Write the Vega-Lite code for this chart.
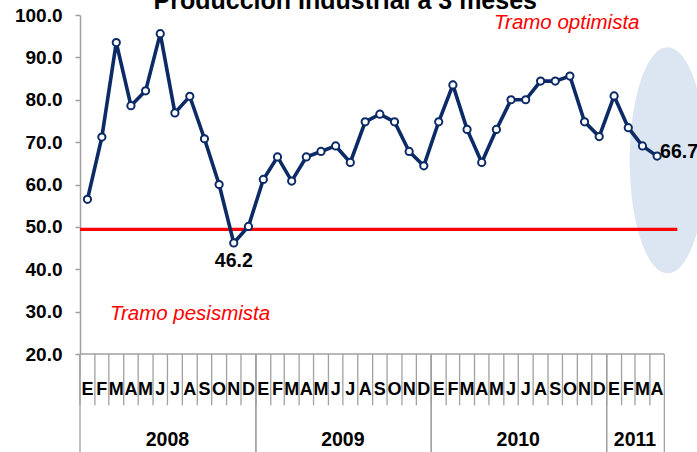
{
  "$schema": "https://vega.github.io/schema/vega-lite/v6.json",
  "width": 617,
  "height": 339,
  "autosize": {"type": "none"},
  "padding": {"left": 80, "top": 15, "right": 0, "bottom": 98},
  "background": "white",
  "config": {"view": {"stroke": null}, "font": "Liberation Sans"},
  "datasets": {
    "serie": [
      {"fecha": "2008-01-01", "anio": 2008, "mes": "E", "valor": 56.5},
      {"fecha": "2008-02-01", "anio": 2008, "mes": "F", "valor": 71.2},
      {"fecha": "2008-03-01", "anio": 2008, "mes": "M", "valor": 93.5},
      {"fecha": "2008-04-01", "anio": 2008, "mes": "A", "valor": 78.6},
      {"fecha": "2008-05-01", "anio": 2008, "mes": "M", "valor": 82.1},
      {"fecha": "2008-06-01", "anio": 2008, "mes": "J", "valor": 95.6},
      {"fecha": "2008-07-01", "anio": 2008, "mes": "J", "valor": 76.9},
      {"fecha": "2008-08-01", "anio": 2008, "mes": "A", "valor": 80.8},
      {"fecha": "2008-09-01", "anio": 2008, "mes": "S", "valor": 70.8},
      {"fecha": "2008-10-01", "anio": 2008, "mes": "O", "valor": 60.0},
      {"fecha": "2008-11-01", "anio": 2008, "mes": "N", "valor": 46.2},
      {"fecha": "2008-12-01", "anio": 2008, "mes": "D", "valor": 50.1},
      {"fecha": "2009-01-01", "anio": 2009, "mes": "E", "valor": 61.2},
      {"fecha": "2009-02-01", "anio": 2009, "mes": "F", "valor": 66.5},
      {"fecha": "2009-03-01", "anio": 2009, "mes": "M", "valor": 60.8},
      {"fecha": "2009-04-01", "anio": 2009, "mes": "A", "valor": 66.5},
      {"fecha": "2009-05-01", "anio": 2009, "mes": "M", "valor": 67.8},
      {"fecha": "2009-06-01", "anio": 2009, "mes": "J", "valor": 69.1},
      {"fecha": "2009-07-01", "anio": 2009, "mes": "J", "valor": 65.2},
      {"fecha": "2009-08-01", "anio": 2009, "mes": "A", "valor": 74.8},
      {"fecha": "2009-09-01", "anio": 2009, "mes": "S", "valor": 76.6},
      {"fecha": "2009-10-01", "anio": 2009, "mes": "O", "valor": 74.8},
      {"fecha": "2009-11-01", "anio": 2009, "mes": "N", "valor": 67.8},
      {"fecha": "2009-12-01", "anio": 2009, "mes": "D", "valor": 64.4},
      {"fecha": "2010-01-01", "anio": 2010, "mes": "E", "valor": 74.8},
      {"fecha": "2010-02-01", "anio": 2010, "mes": "F", "valor": 83.5},
      {"fecha": "2010-03-01", "anio": 2010, "mes": "M", "valor": 73.0},
      {"fecha": "2010-04-01", "anio": 2010, "mes": "A", "valor": 65.2},
      {"fecha": "2010-05-01", "anio": 2010, "mes": "M", "valor": 73.0},
      {"fecha": "2010-06-01", "anio": 2010, "mes": "J", "valor": 80.0},
      {"fecha": "2010-07-01", "anio": 2010, "mes": "J", "valor": 80.0},
      {"fecha": "2010-08-01", "anio": 2010, "mes": "A", "valor": 84.4},
      {"fecha": "2010-09-01", "anio": 2010, "mes": "S", "valor": 84.4},
      {"fecha": "2010-10-01", "anio": 2010, "mes": "O", "valor": 85.6},
      {"fecha": "2010-11-01", "anio": 2010, "mes": "N", "valor": 74.8},
      {"fecha": "2010-12-01", "anio": 2010, "mes": "D", "valor": 71.3},
      {"fecha": "2011-01-01", "anio": 2011, "mes": "E", "valor": 80.9},
      {"fecha": "2011-02-01", "anio": 2011, "mes": "F", "valor": 73.4},
      {"fecha": "2011-03-01", "anio": 2011, "mes": "M", "valor": 69.1},
      {"fecha": "2011-04-01", "anio": 2011, "mes": "A", "valor": 66.7}
    ],
    "anios": [
      {"anio": "2008", "desde": "2008-01-01", "hasta": "2009-01-01", "centro": "2008-07-01"},
      {"anio": "2009", "desde": "2009-01-01", "hasta": "2010-01-01", "centro": "2009-07-01"},
      {"anio": "2010", "desde": "2010-01-01", "hasta": "2011-01-01", "centro": "2010-07-01"},
      {"anio": "2011", "desde": "2011-01-01", "hasta": "2011-05-01", "centro": "2011-03-01"}
    ]
  },
  "layer": [
    {
      "data": {"values": [{}]},
      "mark": {"type": "point", "shape": "M -0.336 0 A 0.336 1 0 1 1 0.336 0 A 0.336 1 0 1 1 -0.336 0 Z", "filled": true, "size": 51076, "color": "#dce6f2", "opacity": 1, "strokeWidth": 0},
      "encoding": {
        "x": {"datum": {"year": 2011, "month": 5, "date": 8, "utc": true}, "type": "temporal", "scale": {"type": "utc", "domain": [{"year": 2008, "month": 1, "date": 1, "utc": true}, {"year": 2011, "month": 7, "date": 8, "utc": true}], "nice": false}, "axis": null},
        "y": {"datum": 65.7, "type": "quantitative", "scale": {"domain": [20, 100], "nice": false, "zero": false}}
      }
    },
    {
      "data": {"values": [{}]},
      "mark": {"type": "rule", "color": "#ff0000", "strokeWidth": 3.3},
      "encoding": {
        "x": {"datum": {"year": 2008, "month": 1, "date": 1, "utc": true}, "type": "temporal", "axis": null},
        "x2": {"datum": {"year": 2011, "month": 5, "date": 28, "utc": true}},
        "y": {"datum": 49.4, "type": "quantitative"}
      }
    },
    {
      "data": {"values": [{}]},
      "mark": {"type": "rule", "color": "#a0a0a0", "strokeWidth": 1.5},
      "encoding": {
        "x": {"datum": {"year": 2008, "month": 1, "date": 1, "utc": true}, "type": "temporal", "axis": null},
        "x2": {"datum": {"year": 2011, "month": 5, "date": 1, "utc": true}},
        "y": {"datum": 20, "type": "quantitative"}
      }
    },
    {
      "data": {"name": "serie"},
      "mark": {"type": "rule", "color": "#a0a0a0", "strokeWidth": 1.3},
      "encoding": {
        "x": {"field": "fecha", "type": "temporal", "axis": null},
        "y": {"datum": 20, "type": "quantitative"},
        "y2": {"datum": 7.9}
      }
    },
    {
      "data": {"name": "anios"},
      "mark": {"type": "rule", "color": "#a0a0a0", "strokeWidth": 1.3},
      "encoding": {
        "x": {"field": "desde", "type": "temporal", "axis": null},
        "y": {"datum": 20, "type": "quantitative"},
        "y2": {"datum": -3.2}
      }
    },
    {
      "data": {"name": "anios"},
      "mark": {"type": "rule", "color": "#a0a0a0", "strokeWidth": 1.3},
      "encoding": {
        "x": {"field": "hasta", "type": "temporal", "axis": null},
        "y": {"datum": 20, "type": "quantitative"},
        "y2": {"datum": -3.2}
      }
    },
    {
      "data": {"name": "serie"},
      "mark": {"type": "line", "color": "#0b2a66", "strokeWidth": 3.6},
      "encoding": {
        "x": {"field": "fecha", "type": "temporal", "timeUnit": "utcyearmonth", "bandPosition": 0.5, "axis": null},
        "y": {"field": "valor", "type": "quantitative", "axis": {"title": null, "values": [20, 30, 40, 50, 60, 70, 80, 90, 100], "format": ".1f", "grid": false, "domainColor": "#a0a0a0", "domainWidth": 1.5, "tickColor": "#a0a0a0", "tickWidth": 1.5, "tickSize": 5, "labelPadding": 13, "labelFont": "Liberation Sans", "labelFontWeight": "bold", "labelFontSize": 19, "labelColor": "#000000"}}
      }
    },
    {
      "data": {"name": "serie"},
      "mark": {"type": "point", "filled": true, "fill": "#ffffff", "stroke": "#0b2a66", "strokeWidth": 2, "size": 52, "opacity": 1},
      "encoding": {
        "x": {"field": "fecha", "type": "temporal", "timeUnit": "utcyearmonth", "bandPosition": 0.5, "axis": null},
        "y": {"field": "valor", "type": "quantitative"}
      }
    },
    {
      "data": {"name": "serie"},
      "transform": [{"filter": "datum.valor == 46.2"}],
      "mark": {"type": "text", "align": "center", "baseline": "alphabetic", "dy": 24, "font": "Liberation Sans", "fontWeight": "bold", "fontSize": 19.5, "color": "#000000"},
      "encoding": {
        "x": {"field": "fecha", "type": "temporal", "timeUnit": "utcyearmonth", "bandPosition": 0.5, "axis": null},
        "y": {"field": "valor", "type": "quantitative"},
        "text": {"field": "valor", "type": "quantitative", "format": ".1f"}
      }
    },
    {
      "data": {"name": "serie"},
      "transform": [{"filter": "datum.valor == 66.7"}],
      "mark": {"type": "text", "align": "left", "baseline": "alphabetic", "dx": 3, "dy": 1.5, "font": "Liberation Sans", "fontWeight": "bold", "fontSize": 19.5, "color": "#000000"},
      "encoding": {
        "x": {"field": "fecha", "type": "temporal", "timeUnit": "utcyearmonth", "bandPosition": 0.5, "axis": null},
        "y": {"field": "valor", "type": "quantitative"},
        "text": {"field": "valor", "type": "quantitative", "format": ".1f"}
      }
    },
    {
      "data": {"name": "serie"},
      "mark": {"type": "text", "align": "center", "baseline": "alphabetic", "font": "Liberation Sans", "fontWeight": "bold", "fontSize": 18, "color": "#000000"},
      "encoding": {
        "x": {"field": "fecha", "type": "temporal", "timeUnit": "utcyearmonth", "bandPosition": 0.5, "axis": null},
        "y": {"datum": 10.4, "type": "quantitative"},
        "text": {"field": "mes", "type": "nominal"}
      }
    },
    {
      "data": {"name": "anios"},
      "mark": {"type": "text", "align": "center", "baseline": "alphabetic", "font": "Liberation Sans", "fontWeight": "bold", "fontSize": 19.5, "color": "#000000"},
      "encoding": {
        "x": {"field": "centro", "type": "temporal", "axis": null},
        "y": {"datum": -1.6, "type": "quantitative"},
        "text": {"field": "anio", "type": "nominal"}
      }
    },
    {
      "data": {"values": [{}]},
      "mark": {"type": "text", "text": "Producción Industrial a 3 meses", "align": "center", "baseline": "alphabetic", "font": "Liberation Sans", "fontWeight": "bold", "fontSize": 25, "color": "#000000"},
      "encoding": {
        "x": {"datum": {"year": 2009, "month": 7, "date": 6, "utc": true}, "type": "temporal", "axis": null},
        "y": {"datum": 101.3, "type": "quantitative"}
      }
    },
    {
      "data": {"values": [{}]},
      "mark": {"type": "text", "text": "Tramo optimista", "align": "center", "baseline": "alphabetic", "font": "Liberation Sans", "fontStyle": "italic", "fontSize": 20.5, "color": "#ff0000"},
      "encoding": {
        "x": {"datum": {"year": 2010, "month": 10, "date": 10, "utc": true}, "type": "temporal", "axis": null},
        "y": {"datum": 96.6, "type": "quantitative"}
      }
    },
    {
      "data": {"values": [{}]},
      "mark": {"type": "text", "text": "Tramo pesismista", "align": "center", "baseline": "alphabetic", "font": "Liberation Sans", "fontStyle": "italic", "fontSize": 20.5, "color": "#ff0000"},
      "encoding": {
        "x": {"datum": {"year": 2008, "month": 8, "date": 17, "utc": true}, "type": "temporal", "axis": null},
        "y": {"datum": 28.1, "type": "quantitative"}
      }
    }
  ]
}
